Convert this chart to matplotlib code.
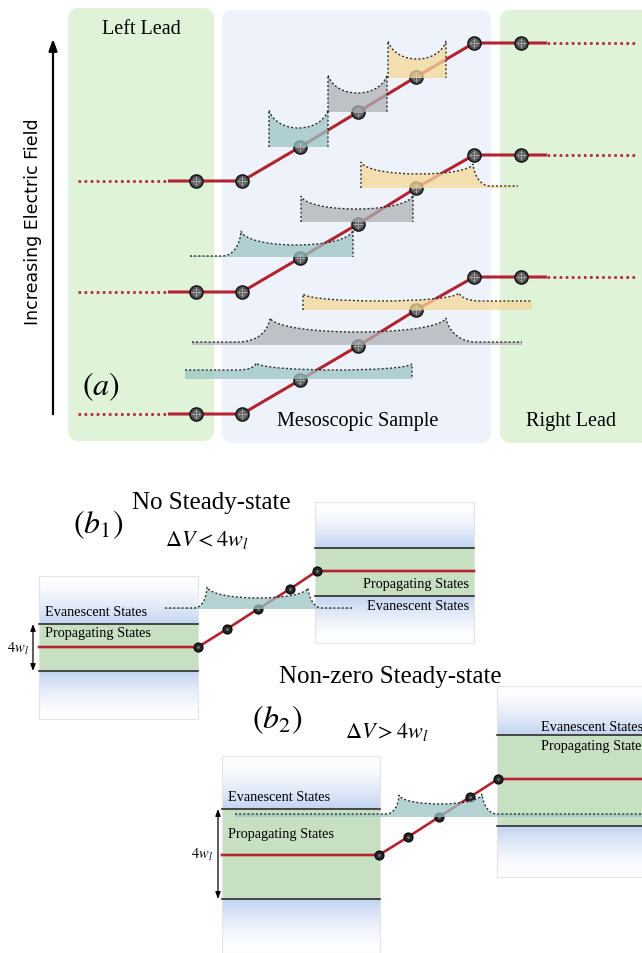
import numpy as np
import matplotlib.pyplot as plt
from matplotlib.patches import FancyBboxPatch, PathPatch, Rectangle
from matplotlib.path import Path
from matplotlib.colors import to_rgb

plt.rcParams["mathtext.fontset"] = "stix"
SERIF = "Liberation Serif"

RED = "#b32230"
TEAL = "#9bc4c4"
GRAY = "#afb2b5"
ORANGE = "#f5d797"
GREEN_LEAD = "#def3d8"
BLUE_SAMPLE = "#eef3fb"
BAND = "#c8e0c2"
FADE_BLUE = "#c2d4f1"

# ---------------- panel (a) data (pixel units, y downwards) ----------------
region_labels = ["Left Lead", "Mesoscopic Sample", "Right Lead"]
region_x0 = [68, 222, 500]
region_x1 = [214, 491, 660]
region_y0 = [9, 11, 11]
region_y1 = [442, 444, 444]
region_label_y = [30, 422, 422]
region_label_x = [141, 358, 571]
region_color = [GREEN_LEAD, BLUE_SAMPLE, GREEN_LEAD]

# nodes of the three chains (weak field at bottom, strong at top)
node_x = [196, 242, 300, 358, 416, 474, 521]
chain_y = [
    [182, 182, 148, 113, 78, 44, 44],
    [293, 293, 259, 225, 189, 156, 156],
    [415, 415, 381, 347, 311, 278, 278],
]
lead_dots_left = [78, 168]
lead_dots_right = [547, 636]

# wave packets: extent, baseline, left edge, dip, right edge
# edge = (x_peak, y_peak, x_flat, y_flat); x_flat None -> vertical wall
wave_color = [TEAL, GRAY, ORANGE, TEAL, GRAY, ORANGE, TEAL, GRAY, ORANGE]
wave_x0 = [269, 328, 388, 190, 301, 361, 185, 192, 303]
wave_x1 = [328, 387, 446, 353, 413, 518, 412, 522, 532]
wave_base = [148, 113, 79, 258, 223, 189, 380, 346, 311]
wave_dip = [129, 94, 60, 246, 210, 175, 371, 333, 302]
wave_left = [
    (269, 111, None, None), (328, 76, None, None), (388, 42, None, None),
    (241, 232, 222, 257), (301, 197, None, None), (362, 163, None, None),
    (256, 364, 238, 371), (270, 319, 238, 343), (303, 295, None, None),
]
wave_right = [
    (328, 111, None, None), (387, 76, None, None), (446, 42, None, None),
    (353, 231, None, None), (413, 196, None, None), (473, 165, 490, 187),
    (412, 365, None, None), (446, 319, 476, 343), (459, 294, 480, 302),
]

# ---------------- panel (b) data ----------------
# boxes: x0, x1, top, band top, red level, band bottom, bottom
box_x0 = [39, 315, 222, 497]
box_x1 = [198, 474, 380, 660]
box_top = [577, 503, 757, 687]
box_band_top = [625, 549, 810, 736]
box_level = [648, 573, 856, 780]
box_band_bot = [672, 597, 900, 827]
box_bottom = [720, 644, 954, 878]

b1_node_x = [198, 227, 258, 290, 317]
b1_node_y = [648, 630, 610, 590, 572]
b2_node_x = [379, 408, 439, 470, 498]
b2_node_y = [856, 838, 818, 798, 780]

bwave_x0 = [165, 235]
bwave_x1 = [352, 642]
bwave_base = [610, 818]
bwave_dip = [599, 805]
bwave_left = [(207, 588, 194, 609), (399, 796, 386, 815)]
bwave_right = [(308, 589, 322, 609), (482, 795, 497, 815)]


fig = plt.figure(figsize=(6.42, 9.54), dpi=100)
ax = fig.add_axes([0, 0, 1, 1])
ax.set_xlim(0, 642)
ax.set_ylim(954, 0)
ax.axis("off")


def wave_paths(x0, x1, base, left, dip, right):
    """Outline (dotted) and filled path of one wave packet."""
    lpx, lpy, lfx, lfy = left
    rpx, rpy, rfx, rfy = right
    pts, codes = [], []
    if lfx is None:
        pts += [(x0, base), (x0, lpy)]
        codes += [Path.MOVETO, Path.LINETO]
    else:
        w = lpx - lfx
        pts += [(x0, lfy), (lfx, lfy),
                (lfx + 0.6 * w, lfy), (lpx - 0.05 * w, lfy + 0.45 * (lpy - lfy)), (lpx, lpy)]
        codes += [Path.MOVETO, Path.LINETO, Path.CURVE4, Path.CURVE4, Path.CURVE4]
    span = rpx - lpx
    k = 0.12 if span < 80 else 0.05
    pts += [(lpx + k * span, lpy + 4 / 3 * (dip - lpy)),
            (rpx - k * span, rpy + 4 / 3 * (dip - rpy)), (rpx, rpy)]
    codes += [Path.CURVE4] * 3
    if rfx is None:
        pts += [(x1, base)]
        codes += [Path.LINETO]
    else:
        w = rfx - rpx
        pts += [(rpx + 0.05 * w, rfy - 0.55 * (rfy - rpy)), (rfx - 0.6 * w, rfy), (rfx, rfy),
                (x1, rfy)]
        codes += [Path.CURVE4, Path.CURVE4, Path.CURVE4, Path.LINETO]
    outline = Path(pts, codes)
    fpts = list(pts)
    fcodes = list(codes)
    if lfx is not None:
        fpts = [(x0, base)] + fpts
        fcodes = [Path.MOVETO, Path.LINETO] + fcodes[1:]
    if rfx is not None:
        fpts += [(x1, base)]
        fcodes += [Path.LINETO]
    fpts += [(x0, base)]
    fcodes += [Path.CLOSEPOLY]
    return outline, Path(fpts, fcodes)


def draw_wave(color, x0, x1, base, left, dip, right):
    outline, filled = wave_paths(x0, x1, base, left, dip, right)
    ax.add_patch(PathPatch(filled, facecolor=color, edgecolor="none", alpha=0.75, zorder=5))
    ax.add_patch(PathPatch(outline, facecolor="none", edgecolor="#2a2a2a", lw=1.0,
                           linestyle=(0, (1.4, 1.6)), zorder=6))


def fade(x0, x1, y_white, y_blue):
    n = 80
    t = np.linspace(0, 1, n)[:, None] ** 1.6
    c0 = np.array(to_rgb("white"))
    c1 = np.array(to_rgb(FADE_BLUE))
    img = (c0 * (1 - t) + c1 * t).reshape(n, 1, 3)
    ax.imshow(img, extent=(x0, x1, y_blue, y_white), origin="upper",
              aspect="auto", interpolation="bilinear", zorder=1)


# ---------------- panel (a) ----------------
for lab, x0, x1, y0, y1, lx, ly, col in zip(region_labels, region_x0, region_x1, region_y0,
                                            region_y1, region_label_x, region_label_y,
                                            region_color):
    ax.add_patch(FancyBboxPatch((x0, y0), x1 - x0, y1 - y0,
                                boxstyle="round,pad=0,rounding_size=11",
                                facecolor=col, edgecolor="none", zorder=0))
    ax.text(lx, ly, lab, ha="center", va="center", fontsize=14.5, family=SERIF, zorder=10)

ax.annotate("", xy=(53, 37), xytext=(53, 418),
            arrowprops=dict(arrowstyle="-|>,head_length=0.7,head_width=0.25",
                            color="black", lw=1.6))
ax.text(33, 222, "Increasing Electric Field", rotation=90, ha="center", va="center",
        fontsize=12.5, family="DejaVu Sans")
ax.text(101, 387, r"$(a)$", ha="center", va="center", fontsize=23)

for ys in chain_y:
    ax.plot(lead_dots_left, [ys[0], ys[0]], color=RED, lw=1.9,
            linestyle=(0, (1, 1.3)), zorder=3)
    ax.plot(lead_dots_right, [ys[-1], ys[-1]], color=RED, lw=1.9,
            linestyle=(0, (1, 1.3)), zorder=3)
    ax.plot([lead_dots_left[1]] + node_x + [lead_dots_right[0]],
            [ys[0]] + ys + [ys[-1]], color=RED, lw=2.2, solid_capstyle="butt", zorder=3)
    ax.plot(node_x, ys, "o", ms=9.5, mfc="#4d4d4d", mec="#111111", mew=1.0, zorder=4)
    ax.plot(node_x, ys, "+", ms=7.5, color="#a8a8a8", mew=0.8, zorder=4)
    ax.plot(node_x, ys, "o", ms=4.5, mfc="none", mec="#9a9a9a", mew=0.6, zorder=4)

for i in range(len(wave_color)):
    draw_wave(wave_color[i], wave_x0[i], wave_x1[i], wave_base[i], wave_left[i],
              wave_dip[i], wave_right[i])

# ---------------- panel (b) ----------------
for x0, x1, yt, bt, lv, bb, yb in zip(box_x0, box_x1, box_top, box_band_top, box_level,
                                      box_band_bot, box_bottom):
    fade(x0, x1, yt, bt)
    fade(x0, x1, yb, bb)
    ax.add_patch(Rectangle((x0, bt), x1 - x0, bb - bt, facecolor=BAND, edgecolor="none",
                           zorder=1))
    ax.add_patch(Rectangle((x0, yt), x1 - x0, yb - yt, facecolor="none",
                           edgecolor="#e4e4e4", lw=0.8, zorder=1))
    ax.plot([x0, x1], [bt, bt], color="#2e2e2e", lw=1.2, zorder=2)
    ax.plot([x0, x1], [bb, bb], color="#2e2e2e", lw=1.2, zorder=2)

for nx, ny, xl, xr in [(b1_node_x, b1_node_y, box_x0[0], box_x1[1]),
                       (b2_node_x, b2_node_y, box_x0[2], box_x1[3])]:
    ax.plot([xl] + nx + [xr], [ny[0]] + ny + [ny[-1]], color=RED, lw=1.9, zorder=3)
    ax.plot(nx, ny, "o", ms=6.5, mfc="#262626", mec="#000000", mew=0.8, zorder=4)
    ax.plot(nx, ny, "o", ms=2, mfc="#777777", mec="none", zorder=4)

for i in range(len(bwave_x0)):
    draw_wave(TEAL, bwave_x0[i], bwave_x1[i], bwave_base[i], bwave_left[i],
              bwave_dip[i], bwave_right[i])

lab_kw = dict(fontsize=10.3, family=SERIF, va="center", zorder=10)
ax.text(45, 613, "Evanescent States", ha="left", **lab_kw)
ax.text(45, 634, "Propagating States", ha="left", **lab_kw)
ax.text(469, 585, "Propagating States", ha="right", **lab_kw)
ax.text(469, 607, "Evanescent States", ha="right", **lab_kw)
ax.text(228, 798, "Evanescent States", ha="left", **lab_kw)
ax.text(228, 835, "Propagating States", ha="left", **lab_kw)
# these two run off the right edge in the reference as well
ax.text(541, 728, "Evanescent States", ha="left", **lab_kw)
ax.text(541, 747, "Propagating States", ha="left", **lab_kw)

for xa, y0, y1, xt in [(33, box_band_top[0], box_band_bot[0], 29),
                       (218, box_band_top[2], box_band_bot[2], 213)]:
    ax.annotate("", xy=(xa, y0), xytext=(xa, y1),
                arrowprops=dict(arrowstyle="<|-|>,head_length=0.4,head_width=0.15",
                                color="black", lw=0.9, shrinkA=0, shrinkB=0))
    ax.text(xt, (y0 + y1) / 2, r"$4w_l$", ha="right", va="center", fontsize=10.5)

ax.text(211, 503, "No Steady-state", ha="center", va="center", fontsize=18, family=SERIF)
ax.text(207, 540, r"$\Delta V < 4w_l$", ha="center", va="center", fontsize=16)
ax.text(98, 525, r"$(b_1)$", ha="center", va="center", fontsize=23)
ax.text(390, 677, "Non-zero Steady-state", ha="center", va="center", fontsize=18,
        family=SERIF)
ax.text(277, 720, r"$(b_2)$", ha="center", va="center", fontsize=23)
ax.text(387, 732, r"$\Delta V > 4w_l$", ha="center", va="center", fontsize=16)

ax.set_xlim(0, 642)
ax.set_ylim(954, 0)
fig.savefig("out.png", dpi=100)
